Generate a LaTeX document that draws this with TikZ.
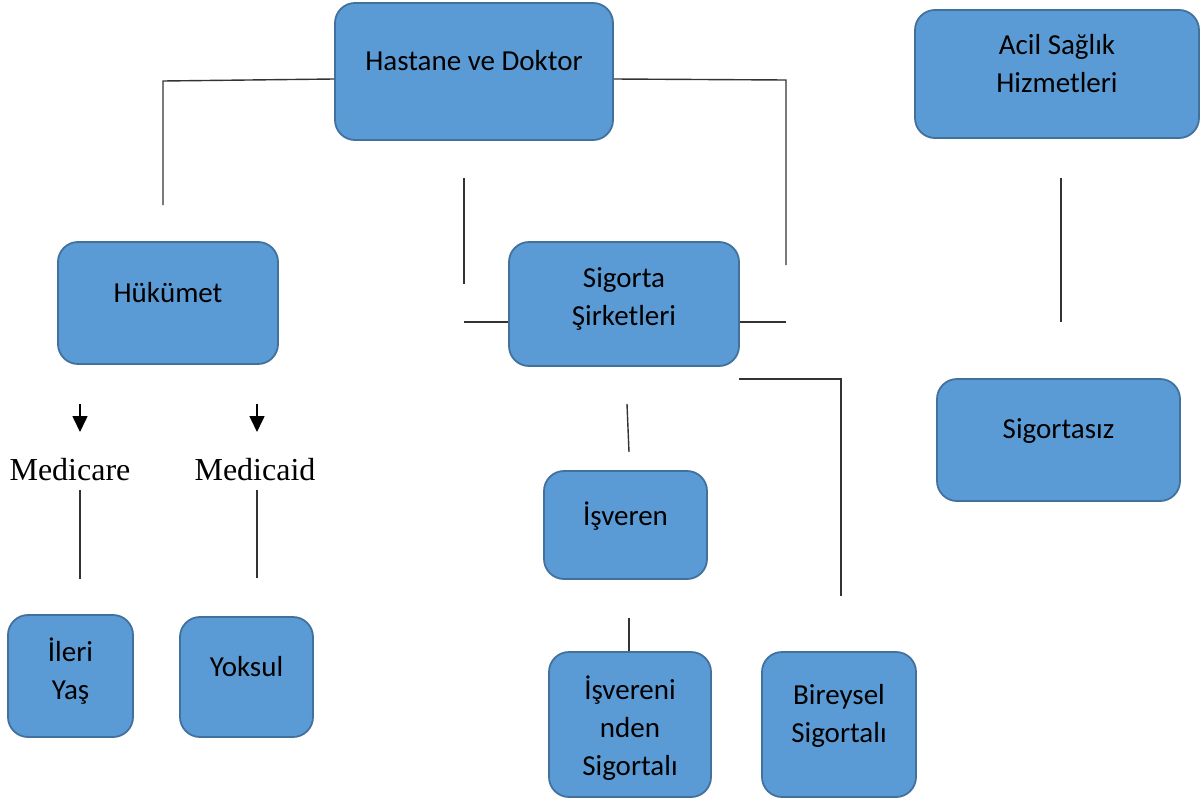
\documentclass[tikz,border=0pt]{standalone}
\usepackage{fontspec}
\setmainfont{Carlito}
\newfontfamily\timesfont{Liberation Serif}
\usetikzlibrary{arrows.meta}
\definecolor{boxfill}{HTML}{5B9BD5}
\definecolor{boxline}{HTML}{41719C}
\tikzset{
  box/.style={draw=boxline, fill=boxfill, line width=1.8pt, rounded corners=20pt, inner sep=0pt},
  txt/.style={font=\fontsize{29}{38}\selectfont, align=center, anchor=base, inner sep=0pt, text=black},
  serif/.style={font=\timesfont\fontsize{32}{36}\selectfont, anchor=base, inner sep=0pt},
  conn/.style={line width=1.4pt, draw=black!80},
  arr/.style={line width=1.6pt, -{Triangle[width=15pt,length=16pt]}}
}
\begin{document}
\begin{tikzpicture}[x=1pt,y=-1pt]
\useasboundingbox (0,0) rectangle (1203,798);
% boxes
\node[box, minimum width=278pt, minimum height=137pt] (hd) at (474,71.5) {};
\node[box, minimum width=284pt, minimum height=128pt] (acil) at (1057,74) {};
\node[box, minimum width=220pt, minimum height=122pt] (huk) at (168,303) {};
\node[box, minimum width=230pt, minimum height=124pt] (sig) at (624,304) {};
\node[box, minimum width=243pt, minimum height=122pt] (siz) at (1058.5,440) {};
\node[box, minimum width=163pt, minimum height=108pt] (isv) at (625.5,525) {};
\node[box, minimum width=162pt, minimum height=145pt] (isvn) at (630,724.5) {};
\node[box, minimum width=154pt, minimum height=145pt] (bir) at (839,724.5) {};
\node[box, minimum width=125pt, minimum height=122pt] (ileri) at (70.5,676) {};
\node[box, minimum width=133pt, minimum height=120pt] (yok) at (246.5,677) {};
% texts (base anchor = baseline of the last line)
\node[txt] (thd) at (474,70) {Hastane ve Doktor};
\node[txt] (tacil) at (1057,92) {Acil Sağlık\\Hizmetleri};
\node[txt] (thuk) at (168,302) {Hükümet};
\node[txt] (tsig) at (624,325) {Sigorta\\Şirketleri};
\node[txt] (tsiz) at (1058.5,438) {Sigortasız};
\node[txt] (tisv) at (625.5,525) {İşveren};
\node[txt] (tisvn) at (630,775) {İşvereni\\nden\\Sigortalı};
\node[txt] (tbir) at (839,742) {Bireysel\\Sigortalı};
\node[txt] (tileri) at (70.5,699) {İleri\\Yaş};
\node[txt] (tyok) at (246.5,676) {Yoksul};
\node[serif] (mcare) at (70,480) {Medicare};
\node[serif] (mcaid) at (255,480) {Medicaid};
% coordinates for free ends
\coordinate (c1) at (163,81);
\coordinate (c2) at (163,205);
\coordinate (c3) at (786,80);
\coordinate (c4) at (786,265);
\coordinate (c5a) at (464,178);
\coordinate (c5b) at (464,284);
\coordinate (c6) at (464,322);
\coordinate (c7) at (786,322);
\coordinate (c8a) at (739,379);
\coordinate (c8b) at (841,379);
\coordinate (c8c) at (841,596);
\coordinate (c9a) at (627,404);
\coordinate (c9b) at (629,452);
\coordinate (c10) at (629,618);
\coordinate (c11a) at (1061,178);
\coordinate (c11b) at (1061,322);
\coordinate (a1a) at (80,404);
\coordinate (a1b) at (80,432);
\coordinate (a2a) at (257,404);
\coordinate (a2b) at (257,432);
\coordinate (l1a) at (80,490);
\coordinate (l1b) at (80,579);
\coordinate (l2a) at (257,490);
\coordinate (l2b) at (257,578);
% connectors
\draw[conn] ([yshift=-7.5pt]hd.west) -- (c1) -- (c2);
\draw[conn] ([yshift=-7.5pt]hd.east) -- (c3) -- (c4);
\draw[conn] (c5a) -- (c5b);
\draw[conn] (c6) -- (sig.west |- c6);
\draw[conn] (sig.east |- c7) -- (c7);
\draw[conn] (c8a) -- (c8b) -- (c8c);
\draw[conn] (c9a) -- (c9b);
\draw[conn] (c10) -- (c10 |- isvn.north);
\draw[conn] (c11a) -- (c11b);
\draw[arr] (a1a) -- (a1b);
\draw[arr] (a2a) -- (a2b);
\draw[conn] (l1a) -- (l1b);
\draw[conn] (l2a) -- (l2b);
\end{tikzpicture}
\end{document}
